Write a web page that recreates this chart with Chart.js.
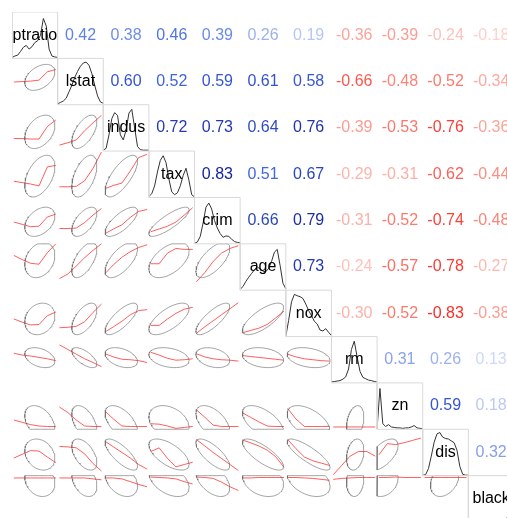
<!DOCTYPE html>
<html>
<head>
<meta charset="utf-8">
<script src="https://cdn.jsdelivr.net/npm/chart.js@4.4.1/dist/chart.umd.min.js"></script>
<style>
  html, body { margin: 0; padding: 0; overflow: hidden; background: #fff; }
  canvas { display: block; }
</style>
</head>
<body>
<canvas id="corr" width="514" height="522" style="width:514px;height:522px"></canvas>
<script>
// variables, in matrix order
const VARS = ['ptratio', 'lstat', 'indus', 'tax', 'crim', 'age', 'nox', 'rm', 'zn', 'dis', 'black'];

// upper triangle: row i, columns i+1 .. 10
const COR = [
  [0.42, 0.38, 0.46, 0.39, 0.26, 0.19, -0.36, -0.39, -0.24, -0.18],
  [0.60, 0.52, 0.59, 0.61, 0.58, -0.66, -0.48, -0.52, -0.34],
  [0.72, 0.73, 0.64, 0.76, -0.39, -0.53, -0.76, -0.36],
  [0.83, 0.51, 0.67, -0.29, -0.31, -0.62, -0.44],
  [0.66, 0.79, -0.31, -0.52, -0.74, -0.48],
  [0.73, -0.24, -0.57, -0.78, -0.27],
  [-0.30, -0.52, -0.83, -0.38],
  [0.31, 0.26, 0.13],
  [0.59, 0.18],
  [0.32],
  []
];

// mean and spread of each variable, as a share of its panel range
const MEAN_X = [0.61, 0.585, 0.395, 0.44, 0.40, 0.50, 0.50, 0.52, 0.13, 0.48, 0.90];
const SD_X   = [0.33, 0.275, 0.355, 0.44, 0.37, 0.45, 0.47, 0.19, 0.33, 0.31, 0.35];
const MEAN_Y = [0.61, 0.59, 0.415, 0.46, 0.475, 0.65, 0.38, 0.545, 0.15, 0.455, 0.90];
const SD_Y   = [0.33, 0.28, 0.36, 0.45, 0.315, 0.38, 0.34, 0.215, 0.36, 0.335, 0.35];

// smoothed trend (lower panels), share of panel height at LOESS_X
const LOESS_X = [0.04, 0.224, 0.408, 0.592, 0.776, 0.96];
const LOESS = [
  [],
  [[0.49, 0.50, 0.51, 0.53, 0.71, 0.76]],
  [[0.27, 0.27, 0.26, 0.26, 0.53, 0.67], [0.13, 0.18, 0.24, 0.44, 0.61, 0.77]],
  [[0.35, 0.32, 0.29, 0.25, 0.66, 0.69], [0.23, 0.23, 0.24, 0.36, 0.63, 0.98], [0.19, 0.26, 0.31, 0.57, 0.86, 0.93]],
  [[0.47, 0.42, 0.37, 0.38, 0.58, 0.64], [0.33, 0.33, 0.34, 0.46, 0.62, 0.76], [0.22, 0.32, 0.41, 0.57, 0.70, 0.74],
   [0.26, 0.32, 0.38, 0.47, 0.62, 0.78]],
  [[0.75, 0.66, 0.58, 0.56, 0.81, 1.00], [0.25, 0.35, 0.52, 0.70, 0.86, 1.00], [0.36, 0.55, 0.71, 0.83, 0.92, 0.98],
   [0.57, 0.57, 0.80, 0.90, 0.88, 0.88], [0.18, 0.38, 0.62, 0.80, 0.90, 0.96]],
  [[0.38, 0.31, 0.25, 0.26, 0.45, 0.53], [0.19, 0.20, 0.22, 0.32, 0.52, 0.70], [0.10, 0.21, 0.33, 0.47, 0.56, 0.58],
   [0.24, 0.24, 0.38, 0.50, 0.59, 0.63], [0.07, 0.21, 0.34, 0.47, 0.60, 0.73], [0.08, 0.13, 0.18, 0.26, 0.40, 0.55]],
  [[0.64, 0.60, 0.58, 0.55, 0.52, 0.48], [0.82, 0.72, 0.62, 0.52, 0.44, 0.35], [0.63, 0.56, 0.51, 0.50, 0.48, 0.44],
   [0.66, 0.60, 0.53, 0.49, 0.50, 0.52], [0.63, 0.56, 0.52, 0.50, 0.49, 0.47], [0.59, 0.57, 0.55, 0.53, 0.51, 0.49],
   [0.62, 0.56, 0.52, 0.50, 0.48, 0.47]],
  [[0.20, 0.15, 0.10, 0.07, 0.06, 0.06], [0.48, 0.36, 0.20, 0.07, 0.06, 0.06], [0.39, 0.22, 0.07, 0.06, 0.06, 0.06],
   [0.12, 0.11, 0.07, 0.02, 0.04, 0.06], [0.42, 0.26, 0.09, 0.06, 0.06, 0.06], [0.36, 0.26, 0.16, 0.07, 0.06, 0.06],
   [0.45, 0.22, 0.06, 0.06, 0.06, 0.06], [0.05, 0.05, 0.05, 0.05, 0.05, 0.05]],
  [[0.38, 0.46, 0.54, 0.53, 0.40, 0.28], [0.63, 0.62, 0.60, 0.47, 0.26, 0.10], [0.74, 0.62, 0.50, 0.38, 0.24, 0.14],
   [0.52, 0.60, 0.37, 0.19, 0.24, 0.29], [0.78, 0.64, 0.50, 0.37, 0.24, 0.11], [0.77, 0.71, 0.64, 0.55, 0.41, 0.18],
   [0.78, 0.58, 0.40, 0.32, 0.27, 0.22], [0.02, 0.22, 0.42, 0.52, 0.52, 0.42], [0.45, 0.69, 0.67, 0.71, 0.76, 0.81]],
  [[0.95, 0.95, 0.95, 0.95, 0.95, 0.95], [0.95, 0.95, 0.95, 0.95, 0.93, 0.91], [0.95, 0.95, 0.93, 0.87, 0.81, 0.76],
   [0.97, 0.96, 0.95, 0.93, 0.87, 0.82], [0.97, 0.96, 0.94, 0.86, 0.76, 0.68], [0.95, 0.95, 0.96, 0.96, 0.96, 0.96],
   [0.96, 0.96, 0.95, 0.94, 0.92, 0.90], [0.92, 0.94, 0.95, 0.96, 0.96, 0.96], [0.96, 0.96, 0.97, 0.96, 0.96, 0.96],
   [0.96, 0.96, 0.96, 0.96, 0.96, 0.96]]
];

// density curves on the diagonal, 17 steps across each panel
const DENS_STEPS = 16;
const DENS = [
  [0.02, 0.05, 0.07, 0.15, 0.24, 0.28, 0.20, 0.25, 0.34, 0.38, 0.50, 0.86, 0.70, 0.20, 0.05, 0.03, 0.02],
  [0.02, 0.05, 0.08, 0.14, 0.28, 0.42, 0.59, 0.72, 0.83, 0.90, 0.92, 0.85, 0.67, 0.42, 0.19, 0.06, 0.03],
  [0.02, 0.06, 0.35, 0.70, 0.83, 0.77, 0.35, 0.24, 0.45, 0.82, 0.90, 0.50, 0.10, 0.03, 0.02, 0.02, 0.02],
  [0.02, 0.08, 0.25, 0.55, 0.80, 0.90, 0.75, 0.40, 0.12, 0.06, 0.10, 0.25, 0.47, 0.63, 0.38, 0.06, 0.01],
  [0.01, 0.04, 0.16, 0.45, 0.79, 0.88, 0.75, 0.50, 0.34, 0.22, 0.14, 0.17, 0.16, 0.10, 0.05, 0.03, 0.02],
  [0.02, 0.08, 0.19, 0.28, 0.36, 0.44, 0.50, 0.46, 0.41, 0.40, 0.47, 0.62, 0.82, 0.88, 0.53, 0.15, 0.03],
  [0.01, 0.35, 0.75, 0.91, 0.88, 0.86, 0.82, 0.70, 0.56, 0.45, 0.33, 0.27, 0.14, 0.12, 0.17, 0.09, 0.02],
  [0.02, 0.03, 0.04, 0.05, 0.08, 0.13, 0.30, 0.72, 0.90, 0.56, 0.25, 0.12, 0.09, 0.06, 0.05, 0.03, 0.02],
  [0.01, 0.88, 0.12, 0.06, 0.10, 0.05, 0.04, 0.03, 0.03, 0.02, 0.03, 0.03, 0.05, 0.08, 0.03, 0.02, 0.01],
  [0.01, 0.02, 0.15, 0.42, 0.72, 0.90, 0.93, 0.83, 0.80, 0.79, 0.75, 0.71, 0.55, 0.20, 0.03, 0.01, 0.01],
  [0.01, 0.01, 0.01, 0.01, 0.01, 0.01, 0.01, 0.01, 0.01, 0.02, 0.02, 0.03, 0.04, 0.06, 0.12, 0.90, 0.05]
];

const N = VARS.length;

function corAt(i, j) { // i < j
  return COR[i][j - i - 1];
}

// red - salmon - white - royalblue - navy
const RAMP = [[255, 0, 0], [250, 128, 114], [255, 255, 255], [65, 105, 225], [0, 0, 128]];
function corColor(r) {
  const t = (r + 1) / 2 * 4;
  const k = Math.min(3, Math.floor(t));
  const f = t - k;
  const a = RAMP[k], b = RAMP[k + 1];
  const c = a.map((v, n) => Math.round(v + (b[n] - v) * f));
  return 'rgb(' + c.join(',') + ')';
}

// panel (row i, col j) -> value space
function px(j, f) { return j + f; }
function py(i, f) { return N - 1 - i + f; }
function clamp(v) { return Math.max(0, Math.min(1, v)); }

const datasets = [];

// diagonal boxes
for (let i = 0; i < N; i++) {
  datasets.push({
    data: [[0, 0], [1, 0], [1, 1], [0, 1], [0, 0]].map(p => ({ x: px(i, p[0]), y: py(i, p[1]) })),
    borderColor: '#d9d9d9', borderWidth: 1
  });
}

// lower panels: ellipse + trend line
for (let i = 1; i < N; i++) {
  for (let j = 0; j < i; j++) {
    const r = corAt(j, i);
    const d = Math.acos(r);
    const pts = [];
    for (let k = 0; k <= 80; k++) {
      const t = k / 80 * 2 * Math.PI;
      const fx = MEAN_X[j] + SD_X[j] * Math.cos(t + d / 2);
      const fy = MEAN_Y[i] + SD_Y[i] * Math.cos(t - d / 2);
      pts.push({ x: px(j, clamp(fx)), y: py(i, clamp(fy)) });
    }
    datasets.push({ data: pts, borderColor: 'rgba(100,100,100,0.6)', borderWidth: 1 });

    datasets.push({
      data: LOESS[i][j].map((v, k) => ({ x: px(j, LOESS_X[k]), y: py(i, clamp(v)) })),
      borderColor: 'rgba(255,40,40,0.75)', borderWidth: 1
    });
  }
}

// densities
for (let i = 0; i < N; i++) {
  datasets.push({
    data: DENS[i].map((v, k) => ({ x: px(i, k / DENS_STEPS), y: py(i, v) })),
    borderColor: '#333', borderWidth: 1
  });
}

datasets.forEach(ds => {
  ds.showLine = true;
  ds.pointRadius = 0;
  ds.fill = false;
  ds.tension = 0;
});

// labels and coefficients
const textPlugin = {
  id: 'cellText',
  afterDatasetsDraw(chart) {
    const ctx = chart.ctx;
    const xs = chart.scales.x, ys = chart.scales.y;
    ctx.save();
    ctx.font = '16px "Liberation Sans", Arial, sans-serif';
    ctx.textAlign = 'center';
    ctx.textBaseline = 'middle';
    for (let i = 0; i < N; i++) {
      for (let j = i; j < N; j++) {
        const cx = xs.getPixelForValue(px(j, 0.5));
        const cy = ys.getPixelForValue(py(i, 0.5));
        if (i === j) {
          ctx.fillStyle = '#000';
          ctx.fillText(VARS[i], cx, cy);
        } else {
          const r = corAt(i, j);
          ctx.fillStyle = corColor(r);
          ctx.fillText(r.toFixed(2), cx, cy);
        }
      }
    }
    ctx.restore();
  }
};

new Chart(document.getElementById('corr'), {
  type: 'scatter',
  data: { datasets: datasets },
  options: {
    responsive: false,
    animation: false,
    devicePixelRatio: 1,
    layout: { padding: { left: 12, top: 12, right: 0, bottom: 0 } },
    plugins: { legend: { display: false }, tooltip: { enabled: false } },
    scales: {
      x: { type: 'linear', min: 0, max: N, display: false },
      y: { type: 'linear', min: 0, max: N, display: false }
    }
  },
  plugins: [textPlugin]
});
</script>
</body>
</html>
